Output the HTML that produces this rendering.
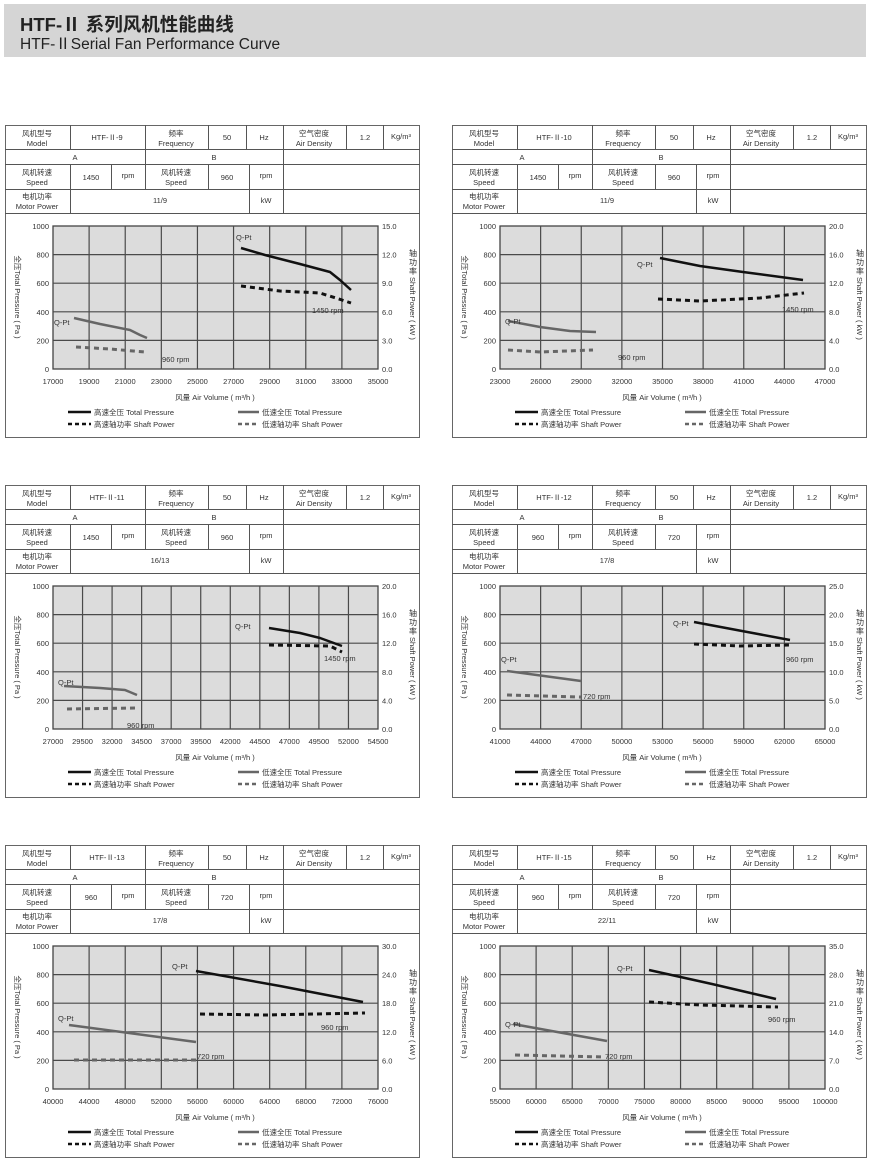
<!DOCTYPE html>
<html><head><meta charset="utf-8">
<style>
html,body{margin:0;padding:0;background:#fff;}
#wrap{position:relative;width:870px;height:1165px;overflow:hidden;}
svg text{font-family:"Liberation Sans","Noto Sans CJK SC",sans-serif;fill:#333;}
</style></head>
<body><div id="wrap">
<svg id="s" width="870" height="1165" viewBox="0 0 870 1165" xmlns="http://www.w3.org/2000/svg">
<rect x="4" y="4" width="862" height="53" fill="#d5d5d5"/>
<text x="20" y="31" font-size="18.5" font-weight="bold" style="fill:#222">HTF-Ⅱ 系列风机性能曲线</text>
<text x="20" y="49" font-size="15.5" style="fill:#222">HTF-ⅡSerial Fan Performance Curve</text>
<g id="panels"></g>
</svg>
</div>
<script>
var P=[
{o:[5,125],m:"HTF-Ⅱ-9",a:"1450",b:"960",pw:"11/9",x0:17000,dx:2000,nx:9,r:3,
 hp:[[236,123],[260,130],[295,139],[325,147],[335,155],[346,165]],
 hs:[[236,161],[275,166],[315,168],[337,175],[346,178]],
 lp:[[69,193],[95,199],[125,205],[135,210],[142,213]],
 ls:[[71,222],[105,224],[140,227]],
 lb:[[231,115,"Q-Pt"],[49,200,"Q-Pt"],[307,188,"1450 rpm"],[157,237,"960 rpm"]]},
{o:[452,125],m:"HTF-Ⅱ-10",a:"1450",b:"960",pw:"11/9",x0:23000,dx:3000,nx:8,r:4,
 hp:[[208,133],[248,141],[291,147],[351,155]],
 hs:[[206,174],[248,176],[308,173],[352,168]],
 lp:[[56,196],[88,202],[118,206],[144,207]],
 ls:[[56,225],[88,227],[141,225]],
 lb:[[185,142,"Q-Pt"],[53,199,"Q-Pt"],[330,187,"1450 rpm"],[166,235,"960 rpm"]]},
{o:[5,485],m:"HTF-Ⅱ-11",a:"1450",b:"960",pw:"16/13",x0:27000,dx:2500,nx:11,r:4,
 hp:[[264,143],[295,148],[315,153],[337,161]],
 hs:[[264,160],[325,161],[337,167]],
 lp:[[59,201],[95,203],[120,205],[132,210]],
 ls:[[62,224],[130,223]],
 lb:[[230,144,"Q-Pt"],[53,200,"Q-Pt"],[319,176,"1450 rpm"],[122,243,"960 rpm"]]},
{o:[452,485],m:"HTF-Ⅱ-12",a:"960",b:"720",pw:"17/8",x0:41000,dx:3000,nx:8,r:5,
 hp:[[242,137],[290,146],[338,155]],
 hs:[[242,159],[288,161],[338,160]],
 lp:[[55,186],[129,196]],
 ls:[[55,210],[129,212]],
 lb:[[221,141,"Q-Pt"],[49,177,"Q-Pt"],[334,177,"960 rpm"],[131,214,"720 rpm"]]},
{o:[5,845],m:"HTF-Ⅱ-13",a:"960",b:"720",pw:"17/8",x0:40000,dx:4000,nx:9,r:6,
 hp:[[191,126],[275,141],[358,157]],
 hs:[[195,169],[260,170],[360,168]],
 lp:[[64,180],[191,197]],
 ls:[[69,215],[191,215]],
 lb:[[167,124,"Q-Pt"],[53,176,"Q-Pt"],[316,185,"960 rpm"],[192,214,"720 rpm"]]},
{o:[452,845],m:"HTF-Ⅱ-15",a:"960",b:"720",pw:"22/11",x0:55000,dx:5000,nx:9,r:7,
 hp:[[197,125],[260,139],[324,154]],
 hs:[[197,157],[248,160],[326,162]],
 lp:[[61,179],[155,196]],
 ls:[[63,210],[153,212]],
 lb:[[165,126,"Q-Pt"],[53,182,"Q-Pt"],[316,177,"960 rpm"],[153,214,"720 rpm"]]}
];
function T(x,y,t,sz,anc,extra){return '<text x="'+x+'" y="'+y+'" font-size="'+(sz||8)+'" text-anchor="'+(anc||'middle')+'" '+(extra||'')+'>'+t+'</text>';}
function L(x1,y1,x2,y2,c,w){return '<line x1="'+x1+'" y1="'+y1+'" x2="'+x2+'" y2="'+y2+'" stroke="'+(c||'#444')+'" stroke-width="'+(w||1)+'"/>';}
function PL(pts,c,w,d){return '<polyline points="'+pts.map(function(p){return p.join(',')}).join(' ')+'" fill="none" stroke="'+c+'" stroke-width="'+w+'" stroke-linejoin="round"'+(d?' stroke-dasharray="'+d+'"':'')+'/>';}
var out='';
P.forEach(function(p){
 var s='<g transform="translate('+p.o[0]+','+p.o[1]+')">';
 s+='<rect x="0.5" y="0.5" width="414" height="312" fill="#fff" stroke="#666" stroke-width="1"/>';
 [24,39,64,88].forEach(function(y){s+=L(0,y+.5,415,y+.5,'#555',1);});
 [65,140,203,241,278,341,378].forEach(function(x){s+=L(x+.5,0,x+.5,24,'#555',1);});
 [140,278].forEach(function(x){s+=L(x+.5,24,x+.5,39,'#555',1);});
 [65,106,140,203,244,278].forEach(function(x){s+=L(x+.5,39,x+.5,64,'#555',1);});
 [65,244,278].forEach(function(x){s+=L(x+.5,64,x+.5,88,'#555',1);});
 s+=T(32,11,'风机型号',7.5)+T(32,21,'Model',7.5);
 s+=T(102,15,p.m,7.5);
 s+=T(171,11,'频率',7.5)+T(171,21,'Frequency',7.5);
 s+=T(222,15,'50',7.5)+T(259,15,'Hz',7.5);
 s+=T(309,11,'空气密度',7.5)+T(309,21,'Air Density',7.5);
 s+=T(360,15,'1.2',7.5)+T(396,14,'Kg/m³',7.5);
 s+=T(70,35,'A',7.5)+T(209,35,'B',7.5);
 s+=T(32,50,'风机转速',7.5)+T(32,60,'Speed',7.5);
 s+=T(86,55,p.a,7.5)+T(123,53,'rpm',7.5);
 s+=T(171,50,'风机转速',7.5)+T(171,60,'Speed',7.5);
 s+=T(222,55,p.b,7.5)+T(261,53,'rpm',7.5);
 s+=T(32,74,'电机功率',7.5)+T(32,84,'Motor Power',7.5);
 s+=T(155,78,p.pw,7.5)+T(261,78,'kW',7.5);
 var X0=48,X1=373,Y0=101,Y1=244;
 s+='<rect x="'+X0+'" y="'+Y0+'" width="'+(X1-X0)+'" height="'+(Y1-Y0)+'" fill="#dcdcdc" stroke="#444" stroke-width="1.3"/>';
 for(var i=1;i<p.nx;i++){var x=X0+(X1-X0)*i/p.nx;s+=L(x,Y0,x,Y1,'#4a4a4a',1.2);}
 for(var j=1;j<5;j++){var y=Y0+(Y1-Y0)*j/5;s+=L(X0,y,X1,y,'#4a4a4a',1.2);}
 for(var j=0;j<=5;j++){var y=Y1-(Y1-Y0)*j/5;
  s+=T(X0-4,y+3,String(j*200),7.5,'end');
  s+=T(X1+4,y+3,(j*p.r).toFixed(1),7.5,'start');}
 for(var i=0;i<=p.nx;i++){var x=X0+(X1-X0)*i/p.nx;s+=T(x,Y1+15,String(p.x0+i*p.dx),7.5);}
 s+=T(0,0,'全压Total Pressure ( Pa )',7.5,'middle','transform="translate(10,172) rotate(90)"');
 s+=T(408,131,'轴',8)+T(408,140,'功',8)+T(408,149,'率',8);
 s+=T(0,0,'Shaft Power ( kW )',7.5,'start','transform="translate(405,152) rotate(90)"');
 s+=T(210,275,'风量 Air Volume ( m³/h )',7.5);
 s+=L(63,287,86,287,'#111',2.5)+T(89,290,'高速全压 Total Pressure',7.5,'start');
 s+=L(233,287,254,287,'#666',2.5)+T(257,290,'低速全压 Total Pressure',7.5,'start');
 s+=L(63,299,86,299,'#111',2.5).replace('/>',' stroke-dasharray="4,3"/>')+T(89,302,'高速轴功率 Shaft Power',7.5,'start');
 s+=L(233,299,254,299,'#666',2.5).replace('/>',' stroke-dasharray="4,3"/>')+T(257,302,'低速轴功率 Shaft Power',7.5,'start');
 s+=PL(p.hp,'#111',2.5);
 s+=PL(p.lp,'#666',2.5);
 s+=PL(p.hs,'#111',3,'5,4');
 s+=PL(p.ls,'#666',3,'5,4');
 p.lb.forEach(function(l){s+=T(l[0],l[1],l[2],7.5,'start');});
 s+='</g>';
 out+=s;
});
document.getElementById('panels').innerHTML=out;
</script>
</body></html>
